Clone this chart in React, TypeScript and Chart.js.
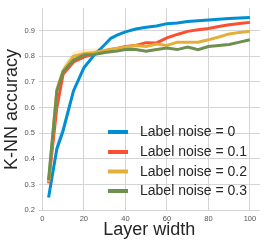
import React, { useEffect, useRef } from "react";
import { Chart, registerables } from "chart.js";

Chart.register(...registerables);

const layerWidths = [3, 7, 10, 15, 20, 25, 30, 33, 36, 40, 45, 50, 55, 60, 65, 70, 75, 80, 85, 90, 95, 100];
const noise0 = [0.25, 0.44, 0.51, 0.665, 0.755, 0.805, 0.845, 0.87, 0.882, 0.895, 0.906, 0.913, 0.918, 0.927, 0.93, 0.935, 0.938, 0.941, 0.944, 0.947, 0.949, 0.951];
const noise01 = [0.305, 0.6, 0.73, 0.778, 0.797, 0.81, 0.822, 0.826, 0.83, 0.838, 0.842, 0.853, 0.852, 0.872, 0.885, 0.897, 0.903, 0.908, 0.916, 0.923, 0.928, 0.932];
const noise02 = [0.31, 0.67, 0.745, 0.8, 0.81, 0.815, 0.822, 0.826, 0.83, 0.836, 0.842, 0.838, 0.848, 0.842, 0.855, 0.855, 0.855, 0.864, 0.875, 0.887, 0.893, 0.897];
const noise03 = [0.318, 0.665, 0.74, 0.785, 0.805, 0.807, 0.815, 0.818, 0.82, 0.826, 0.826, 0.82, 0.826, 0.832, 0.826, 0.836, 0.826, 0.838, 0.842, 0.846, 0.855, 0.864];

// faint uncertainty bands (where visible in the reference)
const band0X = [3, 7, 10, 15];
const band0Upper = [0.27, 0.47, 0.54, 0.68];
const band0Lower = [0.23, 0.42, 0.49, 0.65];
const band2X = [10, 15, 20, 25, 30, 35];
const band2Upper = [0.765, 0.818, 0.828, 0.83, 0.832, 0.836];
const band2Lower = [0.725, 0.785, 0.795, 0.803, 0.808, 0.824];

const seriesLabels = ["Label noise = 0", "Label noise = 0.1", "Label noise = 0.2", "Label noise = 0.3"];
const seriesColors = ["#008fd5", "#fc4f30", "#e5ae38", "#6d904f"];
const seriesValues = [noise0, noise01, noise02, noise03];

const xTicks = [0, 20, 40, 60, 80, 100];
const yTicks = [0.2, 0.3, 0.4, 0.5, 0.6, 0.7, 0.8, 0.9];

const FONT = "'Liberation Sans', Arial, sans-serif";

const legendPlugin = {
  id: "customLegend",
  afterDraw(chart: any) {
    const ctx = chart.ctx;
    ctx.save();
    const x0 = 108;
    const x1 = 128;
    const tx = 140;
    const ys = [132, 152, 171.5, 191];
    seriesLabels.forEach((lab, i) => {
      ctx.strokeStyle = seriesColors[i];
      ctx.lineWidth = 4;
      ctx.lineCap = "butt";
      ctx.beginPath();
      ctx.moveTo(x0, ys[i]);
      ctx.lineTo(x1, ys[i]);
      ctx.stroke();
      ctx.fillStyle = "#262626";
      ctx.font = "14px " + FONT;
      ctx.textBaseline = "middle";
      ctx.textAlign = "left";
      ctx.fillText(lab, tx, ys[i] + 0.5);
    });
    ctx.restore();
  },
};

function band(xs: number[], upper: number[], lower: number[], color: string, order: number) {
  return [
    {
      label: "_upper",
      data: xs.map((x, j) => ({ x, y: upper[j] })),
      borderWidth: 0,
      borderColor: "rgba(0,0,0,0)",
      pointRadius: 0,
      fill: false,
      order,
    },
    {
      label: "_lower",
      data: xs.map((x, j) => ({ x, y: lower[j] })),
      borderWidth: 0,
      borderColor: "rgba(0,0,0,0)",
      backgroundColor: color,
      pointRadius: 0,
      fill: "-1",
      order,
    },
  ];
}

export default function App() {
  const ref = useRef<HTMLCanvasElement | null>(null);
  useEffect(() => {
    document.body.style.margin = "0";
    const canvas = ref.current;
    if (!canvas) return;
    const lines = seriesValues.map((vals, i) => ({
      label: seriesLabels[i],
      data: layerWidths.map((x, j) => ({ x, y: vals[j] })),
      borderColor: seriesColors[i],
      backgroundColor: seriesColors[i],
      borderWidth: 3,
      pointRadius: 0,
      tension: 0,
      fill: false,
      order: 3 - i,
    }));
    const chart = new Chart(canvas, {
      type: "line",
      data: {
        datasets: [
          ...lines,
          ...band(band0X, band0Upper, band0Lower, "rgba(0,143,213,0.18)", 10),
          ...band(band2X, band2Upper, band2Lower, "rgba(229,174,56,0.22)", 10),
        ],
      },
      options: {
        animation: false,
        responsive: false,
        maintainAspectRatio: false,
        devicePixelRatio: 1,
        layout: { padding: { top: 5, right: 6, left: 0, bottom: 0 } },
        plugins: { legend: { display: false }, tooltip: { enabled: false }, filler: { propagate: false } },
        scales: {
          x: {
            type: "linear",
            min: -1.85,
            max: 104.85,
            afterBuildTicks: (scale: any) => {
              scale.ticks = xTicks.map((v) => ({ value: v }));
            },
            afterFit: (scale: any) => {
              scale.height = 35;
            },
            grid: { color: "#d4d4d4", lineWidth: 1, drawTicks: false },
            border: { display: false },
            ticks: {
              color: "#555555",
              font: { size: 7.5, family: FONT },
              padding: 3,
              maxRotation: 0,
              callback: (v: any) => String(v),
            },
            title: {
              display: true,
              text: "Layer width",
              color: "#262626",
              font: { size: 18, family: FONT, lineHeight: 1 },
              padding: { top: 0, bottom: 7 },
            },
          },
          y: {
            type: "linear",
            min: 0.1973,
            max: 0.988,
            afterBuildTicks: (scale: any) => {
              scale.ticks = yTicks.map((v) => ({ value: v }));
            },
            afterFit: (scale: any) => {
              scale.width = 38.5;
            },
            grid: { color: "#d4d4d4", lineWidth: 1, drawTicks: false },
            border: { display: false },
            ticks: {
              color: "#555555",
              font: { size: 7.5, family: FONT },
              padding: 3.5,
              callback: (v: any) => Number(v).toFixed(1),
            },
            title: {
              display: true,
              text: "K-NN accuracy",
              color: "#262626",
              font: { size: 18, family: FONT, lineHeight: 1 },
              padding: { top: 3, bottom: 0 },
            },
          },
        },
      },
      plugins: [legendPlugin],
    } as any);
    return () => chart.destroy();
  }, []);
  return (
    <div style={{ width: 266, height: 246, background: "#ffffff" }}>
      <canvas ref={ref} width={266} height={246} style={{ display: "block", width: 266, height: 246 }} />
    </div>
  );
}
